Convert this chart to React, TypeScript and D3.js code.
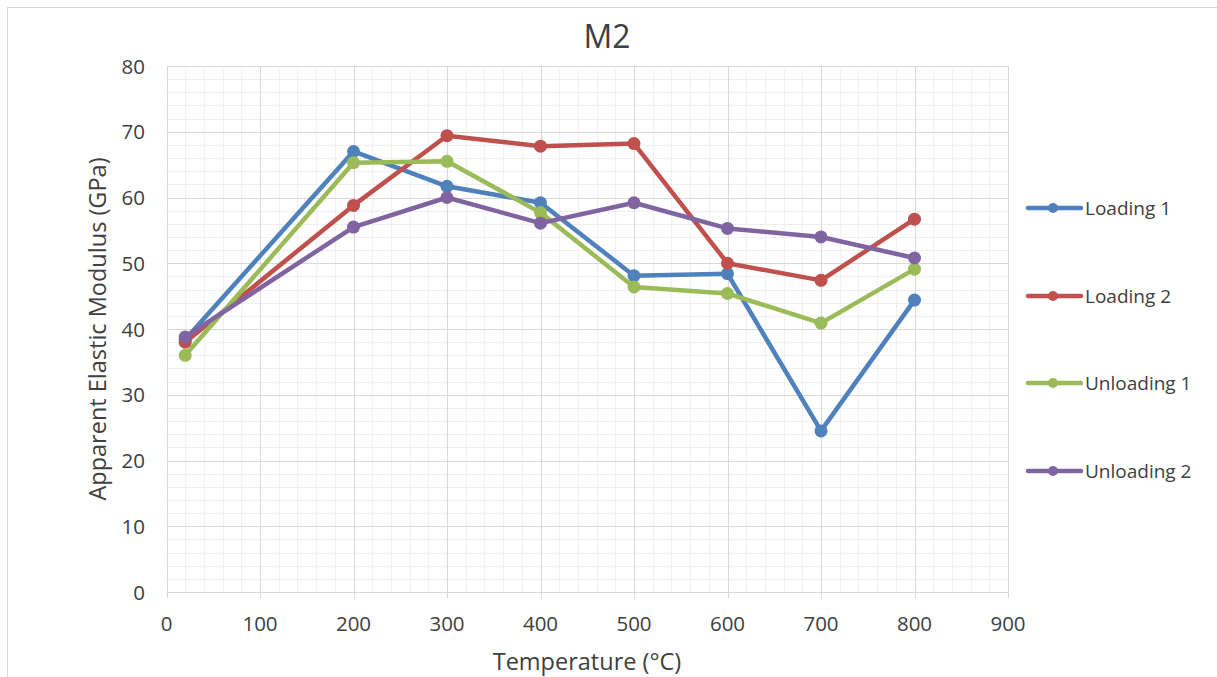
import React from "react";
import * as d3 from "d3";

const temperatures = [20, 200, 300, 400, 500, 600, 700, 800];
const loading1 = [38.4, 67.0, 61.7, 59.2, 48.1, 48.4, 24.5, 44.4];
const loading2 = [38.0, 58.8, 69.4, 67.8, 68.2, 50.0, 47.4, 56.7];
const unloading1 = [36.0, 65.3, 65.5, 57.7, 46.4, 45.4, 40.9, 49.1];
const unloading2 = [38.8, 55.5, 60.0, 56.1, 59.2, 55.3, 54.0, 50.8];
const seriesNames = ["Loading 1", "Loading 2", "Unloading 1", "Unloading 2"];
const seriesColors = ["#4F81BD", "#C0504D", "#9BBB59", "#8064A2"];
const xTicks = [0, 100, 200, 300, 400, 500, 600, 700, 800, 900];
const yTicks = [0, 10, 20, 30, 40, 50, 60, 70, 80];

const W = 1217;
const H = 677;
const FONT = "'Open Sans', 'Noto Sans', sans-serif";
const TEXT = "#404040";

export default function App() {
  const x = d3.scaleLinear().domain([0, 900]).range([166.5, 1008]);
  const y = d3.scaleLinear().domain([0, 80]).range([592, 66]);
  const seriesValues = [loading1, loading2, unloading1, unloading2];

  const line = d3
    .line<[number, number]>()
    .x((d) => x(d[0]))
    .y((d) => y(d[1]));

  const minorX = d3.range(0, 900 + 0.001, 20).filter((v) => v % 100 !== 0);
  const minorY = d3.range(0, 80 + 0.001, 2).filter((v) => v % 10 !== 0);

  const legendY = [208, 296, 383, 471];

  return (
    <svg
      width={W}
      height={H}
      style={{ position: "absolute", left: 0, top: 0, background: "#fff" }}
      fontFamily={FONT}
    >
      <rect x={7.5} y={7.5} width={W + 10} height={H + 10} fill="#fff" stroke="#D9D9D9" strokeWidth={1} />

      {/* minor gridlines */}
      <g stroke="#F0F0F0" strokeWidth={1}>
        {minorX.map((v) => (
          <line key={"mx" + v} x1={Math.round(x(v)) + 0.5} x2={Math.round(x(v)) + 0.5} y1={y(80)} y2={y(0)} />
        ))}
        {minorY.map((v) => (
          <line key={"my" + v} x1={x(0)} x2={x(900)} y1={Math.round(y(v)) + 0.5} y2={Math.round(y(v)) + 0.5} />
        ))}
      </g>
      {/* major gridlines */}
      <g stroke="#D9D9D9" strokeWidth={1}>
        {xTicks.map((v) => (
          <line key={"gx" + v} x1={Math.round(x(v)) + 0.5} x2={Math.round(x(v)) + 0.5} y1={y(80)} y2={y(0) + 6} />
        ))}
        {yTicks.map((v) => (
          <line key={"gy" + v} x1={x(0)} x2={x(900)} y1={Math.round(y(v)) + 0.5} y2={Math.round(y(v)) + 0.5} />
        ))}
      </g>

      {/* tick labels */}
      <g fill={TEXT} fontSize={20.5}>
        {xTicks.map((v) => (
          <text key={"tx" + v} x={x(v)} y={631} textAnchor="middle">
            {v}
          </text>
        ))}
        {yTicks.map((v) => (
          <text key={"ty" + v} x={145} y={y(v) + 7.5} textAnchor="end">
            {v}
          </text>
        ))}
      </g>

      {/* axis titles */}
      <text x={587} y={670} textAnchor="middle" fill={TEXT} fontSize={23.5}>
        Temperature (°C)
      </text>
      <text
        transform={`translate(106,${y(40)}) rotate(-90)`}
        textAnchor="middle"
        fill={TEXT}
        fontSize={23.5}
      >
        Apparent Elastic Modulus (GPa)
      </text>

      {/* title */}
      <text x={607} y={48} textAnchor="middle" fill={TEXT} fontSize={32}>
        M2
      </text>

      {/* series */}
      {seriesValues.map((vals, i) => {
        const pts = temperatures.map((t, j) => [t, vals[j]] as [number, number]);
        return (
          <g key={seriesNames[i]}>
            <path d={line(pts) || ""} fill="none" stroke={seriesColors[i]} strokeWidth={4.5} strokeLinejoin="round" strokeLinecap="round" />
            {pts.map((p, j) => (
              <circle key={j} cx={x(p[0])} cy={y(p[1])} r={6.5} fill={seriesColors[i]} />
            ))}
          </g>
        );
      })}

      {/* legend */}
      {seriesNames.map((name, i) => (
        <g key={"lg" + name}>
          <line x1={1028} x2={1081} y1={legendY[i]} y2={legendY[i]} stroke={seriesColors[i]} strokeWidth={4.5} strokeLinecap="round" />
          <circle cx={1053} cy={legendY[i]} r={5} fill={seriesColors[i]} />
          <text x={1085} y={legendY[i] + 7} fill={TEXT} fontSize={19}>
            {name}
          </text>
        </g>
      ))}
    </svg>
  );
}
